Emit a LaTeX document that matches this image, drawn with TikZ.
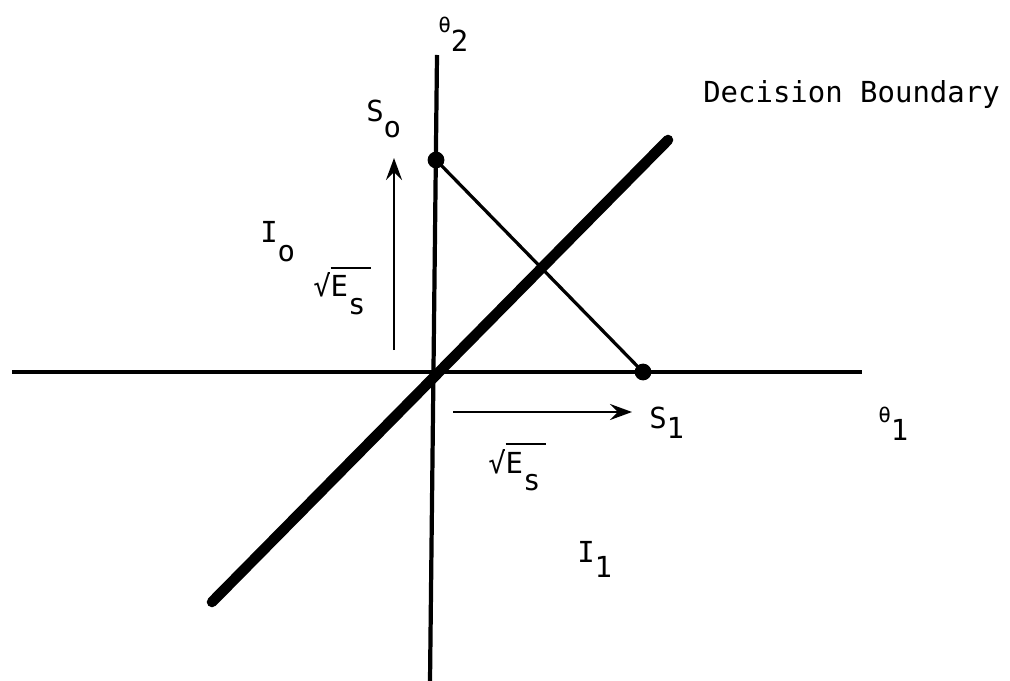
\documentclass[tikz,border=0pt]{standalone}
\usepackage{fontspec}
\setmainfont{DejaVu Sans Mono}
\usetikzlibrary{arrows.meta}
\newcommand{\low}[2][0.6em]{\raisebox{-#1}{#2}}
\newcommand{\smalltheta}{{\fontsize{15}{18}\selectfont θ}}
\newcommand{\rootEs}{√\rlap{\rule[0.98em]{1.4em}{1.5pt}}E\low[0.62em]{s}}

\begin{document}
\begin{tikzpicture}[x=0.025cm,y=-0.025cm,
  lbl/.style={inner sep=0pt,anchor=base west,font=\fontsize{20.6}{24}\selectfont},
  dot/.style={circle,fill,inner sep=0pt,minimum size=0.42cm},
  vec/.style={line width=1.9pt,-{Stealth[length=0.55cm,width=0.4cm,inset=0.2cm]}}]
  \useasboundingbox (0,0) rectangle (1010,681);
  % axes
  \coordinate (xl) at (12,372);
  \coordinate (xr) at (862,372);
  \coordinate (yt) at (437,55);
  \coordinate (yb) at (430,681);
  \draw[line width=3pt] (xl) -- (xr);
  \draw[line width=3pt] (yt) -- (yb);
  \node[lbl] (th1) at (878,422) {\smalltheta\low[0.63em]{1}};
  \node[lbl] (th2) at (438,33) {\smalltheta\low[0.65em]{2}};
  % decision boundary through the origin
  \coordinate (b1) at (212,602);
  \coordinate (b2) at (668,140);
  \draw[line width=7.5pt,line cap=round] (b1) -- (b2);
  \node[lbl] (dec) at (703,103) {Decision Boundary};
  % the two signals
  \node[dot] (s0) at (436,160) {};
  \node[dot] (s1) at (643,372) {};
  \draw[line width=2.3pt] (s0.center) -- (s1.center);
  \node[lbl] (s0lab) at (366,122) {S\low[0.55em]{o}};
  \node[lbl] (s1lab) at (649,428) {S\low[0.35em]{1}};
  % distances
  \coordinate (v1) at (394,350);
  \coordinate (v2) at (394,158);
  \draw[vec] (v1) -- (v2);
  \node[lbl] (e0) at (313,297) {\rootEs};
  \coordinate (h1) at (453,412);
  \coordinate (h2) at (632,412);
  \draw[vec] (h1) -- (h2);
  \node[lbl] (e1) at (488,473) {\rootEs};
  % regions
  \node[lbl] (i0) at (260,243) {I\low[0.65em]{o}};
  \node[lbl] (i1) at (577,562) {I\low[0.55em]{1}};
\end{tikzpicture}
\end{document}
